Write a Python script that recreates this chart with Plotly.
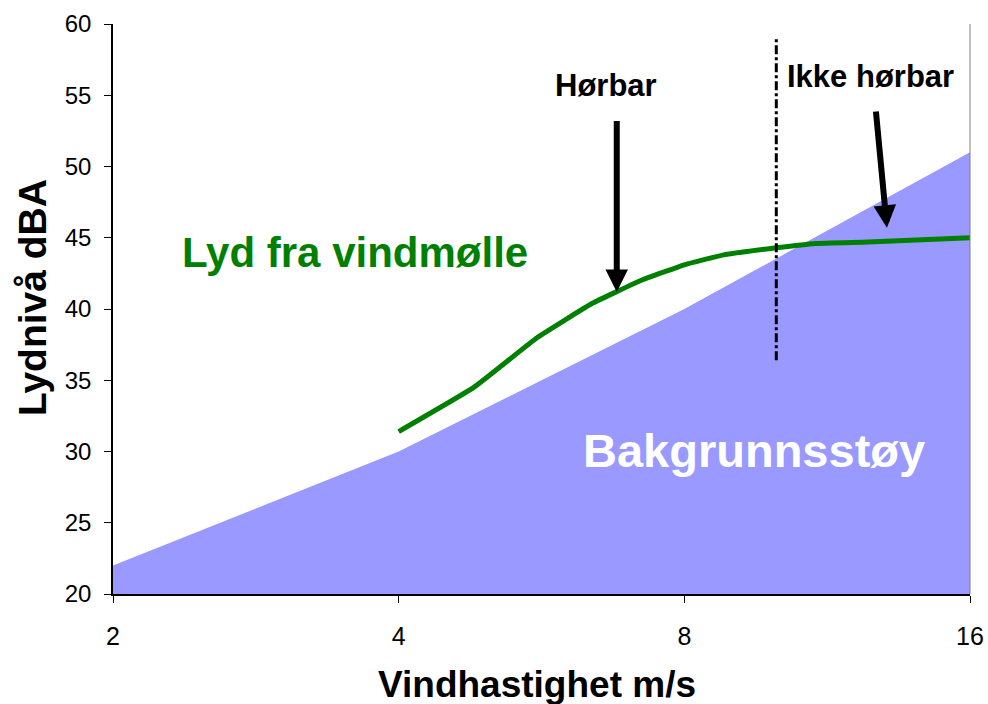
import plotly.graph_objects as go
import math

# Data
bg_speed = [2, 4, 8, 16]
bg_level = [22, 30, 40, 51]

turbine_speed = [4, 4.8, 5.6, 6.4, 7.2, 8, 8.8, 10, 11, 12.5, 16]
turbine_level = [31.4, 34.5, 38.0, 40.4, 42.0, 43.1, 43.8, 44.3, 44.6, 44.7, 45.0]

limit_speed = [10, 10]
limit_level = [36.4, 59.0]

x_ticks = [2, 4, 8, 16]
x_ticktext = ["2", "4", "8", "16"]
y_ticks = [20, 25, 30, 35, 40, 45, 50, 55, 60]

FONT = "Liberation Sans, Arial, sans-serif"

fig = go.Figure()

fig.add_trace(go.Scatter(
    x=bg_speed, y=bg_level, mode="lines", fill="tozeroy",
    fillcolor="#9999FF", line=dict(width=0, color="#9999FF"),
    hoverinfo="skip", showlegend=False))

fig.add_trace(go.Scatter(
    x=turbine_speed, y=turbine_level, mode="lines",
    line=dict(color="#008000", width=5, shape="spline", smoothing=0.3),
    showlegend=False))

fig.add_trace(go.Scatter(
    x=limit_speed, y=limit_level, mode="lines",
    line=dict(color="black", width=3, dash="dashdot"), showlegend=False))

L = math.log10

ML, MR, MT, MB = 113, 18, 24, 110
PW = 988 - ML - MR
PH = 704 - MT - MB

annotations = [
    dict(x=L(3.6), y=44.0, xref="x", yref="y", text="<b>Lyd fra vindmølle</b>",
         showarrow=False, font=dict(family=FONT, size=42, color="#008000")),
    dict(x=L(9.48), y=30.1, xref="x", yref="y", text="<b>Bakgrunnsstøy</b>",
         showarrow=False, font=dict(family=FONT, size=47, color="white")),
    dict(x=L(6.61), y=55.65, xref="x", yref="y", text="<b>Hørbar</b>",
         showarrow=False, font=dict(family=FONT, size=31, color="black")),
    dict(x=L(12.57), y=56.35, xref="x", yref="y", text="<b>Ikke hørbar</b>",
         showarrow=False, font=dict(family=FONT, size=31, color="black")),
    # arrows
    dict(x=L(6.79), y=41.2, ax=L(6.79), ay=53.3, xref="x", yref="y",
         axref="x", ayref="y", text="", showarrow=True, arrowhead=2,
         arrowsize=0.75, arrowwidth=6, arrowcolor="black"),
    dict(x=L(13.08), y=45.7, ax=L(12.73), ay=53.96, xref="x", yref="y",
         axref="x", ayref="y", text="", showarrow=True, arrowhead=2,
         arrowsize=0.75, arrowwidth=6, arrowcolor="black"),
    # axis titles
    dict(x=(537 - ML) / PW, y=-(684 - (704 - MB)) / PH, xref="paper", yref="paper",
         text="<b>Vindhastighet m/s</b>",
         showarrow=False, xanchor="center", yanchor="middle",
         font=dict(family=FONT, size=37, color="black")),
    dict(x=-(ML - 32) / PW, y=((704 - MB) - 298) / PH, xref="paper", yref="paper",
         text="<b>Lydnivå dBA</b>",
         showarrow=False, xanchor="center", yanchor="middle", textangle=-90,
         font=dict(family=FONT, size=39, color="black")),
]

fig.update_layout(
    width=988, height=704, autosize=False,
    margin=dict(l=ML, r=MR, t=MT, b=MB, autoexpand=False),
    paper_bgcolor="white", plot_bgcolor="white",
    annotations=annotations,
    shapes=[dict(type="line", xref="paper", yref="paper", x0=1, x1=1, y0=0, y1=1,
                 line=dict(color="#808080", width=1))],
)

fig.update_xaxes(
    type="log", range=[L(2), L(16)], tickvals=x_ticks, ticktext=x_ticktext,
    ticks="outside", ticklen=7, tickcolor="black", showline=True, linecolor="black",
    linewidth=1.5, showgrid=False, zeroline=False, ticklabelstandoff=12,
    automargin=False, ticklabeloverflow="allow",
    tickfont=dict(family=FONT, size=25, color="black"))

fig.update_yaxes(
    range=[20, 60], tickvals=y_ticks, ticks="outside", ticklen=7, tickcolor="black",
    showline=True, linecolor="black", linewidth=1.5, showgrid=False, zeroline=False,
    ticklabelstandoff=8, automargin=False, ticklabeloverflow="allow",
    tickfont=dict(family=FONT, size=24, color="black"))

post = (
    "document.body.style.margin='0px';"
    "document.body.style.overflow='hidden';"
)

fig.write_html("out.html", post_script=post,
               config={"displayModeBar": False, "responsive": False})
